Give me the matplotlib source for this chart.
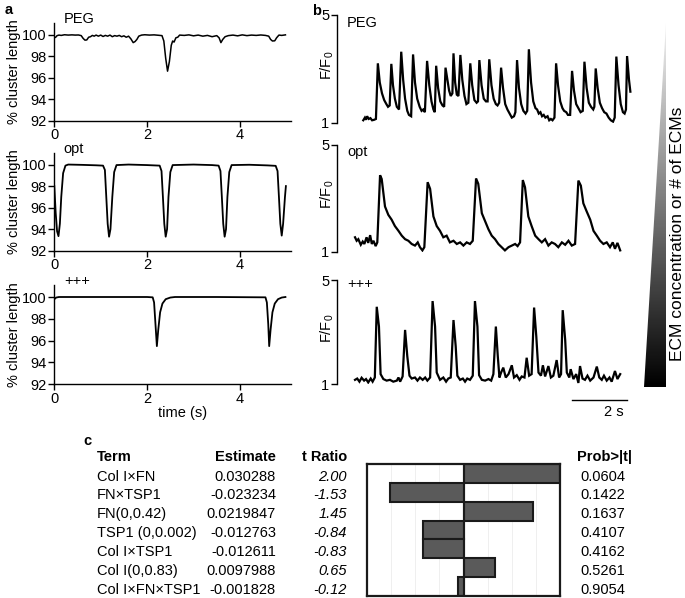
import matplotlib
matplotlib.use("Agg")
import matplotlib.pyplot as plt
import numpy as np
from matplotlib.patches import Polygon

plt.rcParams['font.family'] = ['Liberation Sans', 'DejaVu Sans']

# ---------------- data ----------------
# panel a: % cluster length traces (time s, value)
peg_a_t = [0.00, 0.03, 0.06, 0.10, 0.15, 0.22, 0.30, 0.38, 0.45, 0.52, 0.58, 0.62, 0.66, 0.70, 0.74, 0.78,
           0.82, 0.86, 0.90, 0.95, 1.00, 1.05, 1.10, 1.15, 1.20, 1.25, 1.30, 1.35, 1.40, 1.45, 1.50, 1.55,
           1.60, 1.65, 1.70, 1.74, 1.78, 1.82, 1.88, 1.95, 2.05, 2.15, 2.25, 2.32, 2.36, 2.40, 2.44, 2.48,
           2.52, 2.55, 2.58, 2.62, 2.66, 2.70, 2.80, 2.90, 3.00, 3.10, 3.20, 3.30, 3.40, 3.50, 3.55, 3.59,
           3.63, 3.68, 3.75, 3.85, 3.95, 4.05, 4.15, 4.25, 4.35, 4.45, 4.55, 4.62, 4.66, 4.70, 4.75, 4.79,
           4.84, 4.90, 4.98]
peg_a_v = [99.70, 99.75, 99.90, 99.95, 99.92, 99.98, 99.95, 99.97, 99.95, 99.96, 99.90, 99.65, 99.48, 99.50, 99.75, 99.80,
           99.92, 99.85, 99.95, 99.85, 99.95, 99.82, 99.92, 99.85, 99.95, 99.80, 99.90, 99.85, 99.92, 99.80, 99.88, 99.75,
           99.85, 99.60, 99.25, 99.35, 99.55, 99.85, 99.95, 99.98, 99.95, 99.97, 99.93, 99.90, 99.40, 97.80, 96.60, 97.50,
           99.00, 99.40, 99.30, 99.70, 99.75, 99.95, 99.92, 99.97, 99.88, 99.95, 99.85, 99.92, 99.80, 99.90, 99.70, 99.25,
           99.55, 99.80, 99.90, 99.95, 99.88, 99.97, 99.90, 99.95, 99.92, 99.96, 99.92, 99.85, 99.55, 99.40, 99.42, 99.70,
           99.95, 99.92, 99.97]

opt_a_t = [0.00, 0.03, 0.06, 0.09, 0.12, 0.15, 0.19, 0.24, 0.30, 0.60, 0.90, 1.05, 1.09, 1.12, 1.15, 1.18, 1.21,
           1.25, 1.29, 1.34, 1.60, 2.00, 2.27, 2.31, 2.34, 2.37, 2.40, 2.43, 2.46, 2.50, 2.55, 3.00, 3.40, 3.54,
           3.58, 3.61, 3.64, 3.67, 3.70, 3.73, 3.77, 3.82, 4.20, 4.60, 4.77, 4.81, 4.84, 4.87, 4.90, 4.93, 4.97, 4.99]
opt_a_v = [98.0, 95.5, 93.8, 93.35, 94.5, 97.0, 99.2, 99.9, 100.0, 99.97, 99.93, 99.9, 99.5, 97.0, 94.5, 93.3, 94.0,
           97.0, 99.3, 99.95, 100.0, 99.95, 99.9, 99.4, 97.0, 94.5, 93.3, 94.0, 97.0, 99.3, 99.95, 100.0, 99.95, 99.9,
           99.4, 97.0, 94.5, 93.3, 94.0, 97.0, 99.3, 99.95, 99.98, 99.92, 99.88, 99.4, 97.0, 94.5, 93.4, 94.5, 97.0, 98.0]

ppp_a_t = [0.00, 0.04, 0.10, 1.00, 2.00, 2.12, 2.15, 2.18, 2.21, 2.24, 2.28, 2.33, 2.40, 2.50, 2.60, 3.50,
           4.55, 4.58, 4.61, 4.63, 4.66, 4.70, 4.75, 4.82, 4.90, 4.98]
ppp_a_v = [99.8, 99.95, 100.0, 100.0, 100.0, 99.97, 99.5, 97.5, 95.5, 97.0, 98.6, 99.4, 99.8, 99.95, 100.0, 100.0,
           99.97, 99.5, 97.5, 95.5, 97.0, 98.6, 99.4, 99.8, 99.95, 100.0]

# panel b: F/F0 traces (time s, value)
peg_b_t = [0.00, 0.06, 0.10, 0.14, 0.20, 0.26, 0.32, 0.40, 0.46, 0.53, 0.60, 0.68, 0.76, 0.84, 0.90, 0.96,
           1.02, 1.08, 1.15, 1.22, 1.30, 1.38, 1.45, 1.52, 1.60, 1.66, 1.74, 1.81, 1.88, 1.96, 2.05, 2.12,
           2.18, 2.24, 2.32, 2.40, 2.48, 2.55, 2.60, 2.65, 2.72, 2.80, 2.88, 2.94, 2.99, 3.06, 3.12, 3.18,
           3.24, 3.28, 3.34, 3.40, 3.46, 3.53, 3.60, 3.68, 3.75, 3.82, 3.89, 3.96, 4.04, 4.12, 4.17, 4.22,
           4.30, 4.38, 4.46, 4.52, 4.58, 4.66, 4.74, 4.82, 4.88, 4.94, 5.01, 5.08, 5.16, 5.24, 5.32, 5.40,
           5.48, 5.53, 5.59, 5.66, 5.74, 5.82, 5.90, 5.96, 6.02, 6.10, 6.18, 6.26, 6.32, 6.38, 6.44, 6.50,
           6.56, 6.62, 6.70, 6.76, 6.82, 6.88, 6.95, 7.01, 7.08, 7.16, 7.24, 7.30, 7.38, 7.44, 7.52, 7.59,
           7.66, 7.74, 7.82, 7.90, 7.98, 8.04, 8.12, 8.20, 8.28, 8.36, 8.40, 8.45, 8.52, 8.60, 8.68, 8.76,
           8.84, 8.92, 9.00, 9.08, 9.14, 9.20, 9.28, 9.36, 9.44, 9.50, 9.55, 9.59, 9.66, 9.71]
peg_b_v = [1.10, 1.20, 1.12, 1.25, 1.15, 1.18, 1.10, 1.12, 1.15, 3.21, 2.50, 2.10, 1.85, 1.70, 1.60, 1.65,
           3.19, 2.40, 1.90, 1.60, 1.50, 3.64, 2.60, 1.90, 1.45, 1.30, 1.25, 3.54, 2.50, 1.90, 1.60, 1.45,
           1.50, 1.40, 3.30, 2.40, 1.80, 1.50, 1.40, 3.12, 2.30, 1.80, 1.65, 1.60, 3.05, 2.60, 2.20, 2.00,
           2.10, 3.58, 2.50, 2.05, 2.00, 3.52, 2.60, 2.00, 1.70, 1.75, 3.21, 2.40, 1.85, 1.75, 1.80, 3.33,
           2.40, 1.90, 1.80, 1.80, 3.36, 2.40, 1.90, 1.70, 1.65, 1.75, 3.05, 2.30, 1.70, 1.50, 1.35, 1.20,
           1.25, 1.40, 3.33, 2.30, 1.70, 1.45, 1.35, 1.45, 3.73, 2.50, 1.80, 1.55, 1.50, 1.35, 1.40, 1.25,
           1.30, 1.20, 1.25, 1.10, 1.15, 1.10, 1.20, 3.21, 2.40, 1.80, 1.55, 1.45, 1.40, 1.30, 1.30, 2.93,
           2.20, 1.70, 1.55, 1.40, 1.45, 3.27, 2.30, 1.75, 1.60, 1.50, 1.60, 3.02, 2.30, 1.75, 1.55, 1.40,
           1.35, 1.20, 1.10, 1.05, 1.20, 3.46, 2.40, 1.70, 1.40, 1.35, 1.50, 3.48, 2.60, 2.16]
peg_b_start = 0.30

opt_b_t = [0.00, 0.06, 0.12, 0.21, 0.28, 0.34, 0.42, 0.48, 0.55, 0.61, 0.67, 0.75, 0.81, 0.91, 0.97, 1.09,
           1.21, 1.33, 1.45, 1.58, 1.70, 1.82, 1.94, 2.06, 2.18, 2.28, 2.36, 2.45, 2.52, 2.64, 2.73, 2.85,
           2.97, 3.09, 3.21, 3.33, 3.45, 3.58, 3.70, 3.82, 3.94, 4.06, 4.18, 4.28, 4.40, 4.48, 4.61, 4.73,
           4.85, 4.97, 5.09, 5.21, 5.33, 5.45, 5.58, 5.70, 5.82, 5.91, 6.00, 6.10, 6.18, 6.30, 6.42, 6.55,
           6.67, 6.79, 6.91, 7.03, 7.15, 7.27, 7.39, 7.52, 7.64, 7.76, 7.88, 8.00, 8.12, 8.21, 8.30, 8.42,
           8.55, 8.67, 8.79, 8.91, 9.03, 9.15, 9.27, 9.37, 9.45, 9.54, 9.64]
opt_b_v = [1.55, 1.42, 1.48, 1.27, 1.39, 1.30, 1.55, 1.34, 1.63, 1.30, 1.42, 1.22, 1.36, 3.87, 3.73, 2.70,
           2.39, 2.21, 1.97, 1.79, 1.61, 1.48, 1.42, 1.30, 1.24, 1.36, 1.18, 1.06, 1.18, 3.61, 3.36, 2.33,
           1.97, 1.79, 1.55, 1.61, 1.36, 1.42, 1.30, 1.36, 1.24, 1.36, 1.30, 1.42, 3.75, 3.55, 2.45, 2.15,
           1.85, 1.61, 1.48, 1.30, 1.18, 1.06, 1.18, 1.24, 1.30, 1.22, 1.36, 3.69, 3.42, 2.33, 1.97, 1.61,
           1.48, 1.36, 1.48, 1.24, 1.36, 1.30, 1.18, 1.36, 1.27, 1.42, 1.24, 1.30, 3.67, 3.48, 2.82, 2.52,
           2.21, 1.79, 1.61, 1.42, 1.30, 1.36, 1.18, 1.36, 1.12, 1.34, 1.06]

ppp_b_t = [0.00, 0.08, 0.16, 0.24, 0.33, 0.40, 0.48, 0.57, 0.64, 0.72, 0.79, 0.87, 0.93, 1.03, 1.15, 1.27,
           1.39, 1.52, 1.58, 1.64, 1.73, 1.82, 1.90, 1.98, 2.06, 2.18, 2.27, 2.36, 2.46, 2.55, 2.63, 2.73,
           2.82, 2.91, 2.97, 3.09, 3.21, 3.31, 3.39, 3.48, 3.58, 3.66, 3.72, 3.82, 3.92, 4.00, 4.08, 4.18,
           4.28, 4.36, 4.45, 4.51, 4.61, 4.73, 4.85, 4.95, 5.03, 5.12, 5.19, 5.25, 5.31, 5.39, 5.48, 5.58,
           5.70, 5.78, 5.88, 5.98, 6.06, 6.16, 6.24, 6.33, 6.42, 6.51, 6.59, 6.67, 6.76, 6.83, 6.91, 7.03,
           7.12, 7.21, 7.33, 7.42, 7.49, 7.55, 7.64, 7.70, 7.79, 7.84, 7.94, 8.04, 8.12, 8.18, 8.27, 8.36,
           8.45, 8.55, 8.67, 8.79, 8.88, 8.97, 9.05, 9.15, 9.25, 9.33, 9.45, 9.54, 9.64]
ppp_b_v = [1.16, 1.21, 1.09, 1.24, 1.13, 1.19, 1.06, 1.21, 1.09, 1.25, 3.97, 3.21, 1.38, 1.19, 1.13, 1.16,
           1.09, 1.13, 1.25, 1.09, 1.29, 3.08, 2.07, 1.32, 1.21, 1.25, 1.13, 1.25, 1.16, 1.25, 1.13, 1.25,
           4.19, 3.21, 1.44, 1.16, 1.25, 1.09, 1.21, 1.25, 3.46, 2.45, 1.32, 1.16, 1.21, 1.09, 1.21, 1.16,
           1.32, 4.19, 3.21, 1.34, 1.16, 1.13, 1.19, 1.13, 1.38, 3.21, 2.07, 1.25, 1.44, 1.63, 1.25, 1.38,
           1.72, 1.25, 1.34, 1.16, 1.29, 1.25, 2.01, 1.32, 1.38, 3.94, 2.83, 1.44, 1.32, 1.72, 1.29, 1.69,
           1.25, 1.32, 1.92, 1.25, 1.38, 3.84, 2.70, 1.44, 1.25, 1.57, 1.19, 1.38, 1.04, 1.69, 1.21, 1.16,
           1.32, 1.13, 1.25, 1.67, 1.25, 1.16, 1.32, 1.13, 1.25, 1.09, 1.50, 1.19, 1.38]

conditions = ['PEG', 'opt', '+++']
a_yticks = [92, 94, 96, 98, 100]
a_xticks = [0, 2, 4]
b_yticks = [1, 5]
scale_bar_s = 2

# panel c: regression table
terms = ['Col I\u00d7FN', 'FN\u00d7TSP1', 'FN(0,0.42)', 'TSP1 (0,0.002)', 'Col I\u00d7TSP1',
         'Col I(0,0.83)', 'Col I\u00d7FN\u00d7TSP1']
estimates = ['0.030288', '-0.023234', '0.0219847', '-0.012763', '-0.012611', '0.0097988', '-0.001828']
t_ratios = [2.00, -1.53, 1.45, -0.84, -0.83, 0.65, -0.12]
probs = ['0.0604', '0.1422', '0.1637', '0.4107', '0.4162', '0.5261', '0.9054']

# ---------------- figure ----------------
W, H = 685, 598
fig = plt.figure(figsize=(W / 100, H / 100), dpi=100)


def rect(x0, y0, x1, y1):
    """pixel box (top-left origin) -> figure fraction rect"""
    return [x0 / W, 1 - y1 / H, (x1 - x0) / W, (y1 - y0) / H]


def ftext(x, y, s, **kw):
    fig.text(x / W, 1 - y / H, s, **kw)


FS = 10.5

# ---- panel a ----
a_boxes = [(54.3, 22.7, 291, 120.7), (54.3, 152.7, 291, 250.7), (54.3, 285, 291, 384.3)]
a_data = [(peg_a_t, peg_a_v), (opt_a_t, opt_a_v), (ppp_a_t, ppp_a_v)]
for i, (box, (tt, vv)) in enumerate(zip(a_boxes, a_data)):
    ax = fig.add_axes(rect(*box))
    ax.plot(tt, vv, color='black', lw=1.3 if i else 1.1)
    ax.set_xlim(0, 5.1)
    ax.set_ylim(92, 101.1)
    ax.set_yticks(a_yticks)
    ax.set_xticks(a_xticks)
    for s in ['top', 'right']:
        ax.spines[s].set_visible(False)
    for s in ['left', 'bottom']:
        ax.spines[s].set_linewidth(1.0)
    ax.tick_params(labelsize=FS, length=4, width=1.0, pad=1.5)
    ax.set_ylabel('% cluster length', fontsize=FS, labelpad=1)
    ax.text(0.04, 1.04, conditions[i], transform=ax.transAxes, fontsize=FS,
            ha='left', va='center')
ftext(183, 413, 'time (s)', fontsize=FS, ha='center', va='center')

# ---- panel b ----
b_boxes = [(337, 15, 640, 123), (337, 145, 640, 252), (337, 280, 640, 384)]
b_data = [(np.array(peg_b_t) + peg_b_start, peg_b_v), (opt_b_t, opt_b_v), (ppp_b_t, ppp_b_v)]
b_label_y = [23, 152, 284]
b_axes = []
for i, (box, (tt, vv)) in enumerate(zip(b_boxes, b_data)):
    ax = fig.add_axes(rect(*box))
    b_axes.append(ax)
    ax.plot(tt, vv, color='black', lw=1.6, solid_joinstyle='miter')
    ax.set_xlim(-0.655, 10.36)
    ax.set_ylim(1, 5)
    for s in ['top', 'right', 'bottom']:
        ax.spines[s].set_visible(False)
    ax.spines['left'].set_linewidth(1.0)
    ax.set_xticks([])
    ax.set_yticks(b_yticks)
    ax.tick_params(labelsize=FS, length=4, width=1.0, pad=1.5)
    ax.patch.set_alpha(0)
    mid = (box[1] + box[3]) / 2
    ftext(327, mid - 4, r'F/F$_\mathregular{0}$', fontsize=FS, rotation=90, ha='center', va='center')
    ftext(347, b_label_y[i], conditions[i], fontsize=FS, ha='left', va='center')

axb = b_axes[-1]
axb.plot([7.9, 7.9 + scale_bar_s], [0.4, 0.4], color='black', lw=1.0, clip_on=False)
ftext(614, 412, '2 s', fontsize=FS, ha='center', va='center')

# gradient wedge
axg = fig.add_axes(rect(644, 23, 666, 387))
axg.set_xlim(0, 1)
axg.set_ylim(0, 1)
axg.axis('off')
grad = np.linspace(0, 1, 256).reshape(-1, 1)
im = axg.imshow(grad, extent=[0, 1, 0, 1], origin='lower', cmap='gray', vmin=0, vmax=1.05,
                aspect='auto')
wedge = Polygon([(1, 1), (1, 0), (0, 0)], closed=True, transform=axg.transData,
                facecolor='none', edgecolor='none')
axg.add_patch(wedge)
im.set_clip_path(wedge)
ftext(677, 234, 'ECM concentration or # of ECMs', fontsize=12.5, rotation=90, ha='center', va='center')

# ---- panel labels ----
ftext(5, 10, 'a', fontsize=FS, fontweight='bold', ha='left', va='center')
ftext(312, 11, 'b', fontsize=FS, fontweight='bold', ha='left', va='center')
ftext(83, 441, 'c', fontsize=FS, fontweight='bold', ha='left', va='center')

# ---- panel c ----
TF = 10.5
hy = 457
ftext(97, hy, 'Term', fontsize=TF, fontweight='bold', ha='left', va='center')
ftext(276, hy, 'Estimate', fontsize=TF, fontweight='bold', ha='right', va='center')
ftext(347, hy, 't Ratio', fontsize=TF, fontweight='bold', ha='right', va='center')
ftext(577, hy, 'Prob>|t|', fontsize=TF, fontweight='bold', ha='left', va='center')
row_h = (596 - 464) / len(terms)
for i in range(len(terms)):
    y = 464 + row_h * (i + 0.5) + 3.2
    ftext(97, y, terms[i], fontsize=TF, ha='left', va='center')
    ftext(276, y, estimates[i], fontsize=TF, ha='right', va='center')
    ftext(347, y, f'{t_ratios[i]:.2f}', fontsize=TF, ha='right', va='center', style='italic')
    ftext(580, y, probs[i], fontsize=TF, ha='left', va='center')

axc = fig.add_axes(rect(367, 464, 560, 596))
ypos = np.arange(len(terms))
axc.barh(ypos, t_ratios, height=1.0, color='#5a5a5a', edgecolor='#1a1a1a', linewidth=1.5)
axc.axvline(0, color='#1a1a1a', lw=1.5)
for gx in [-1.5, -1.0, -0.5, 0.5, 1.0, 1.5]:
    axc.axvline(gx, color='#ececec', lw=0.6, zorder=0)
axc.set_xlim(-2, 2)
axc.set_ylim(len(terms) - 0.5, -0.5)
axc.set_xticks([])
axc.set_yticks([])
for s in axc.spines.values():
    s.set_linewidth(1.6)
    s.set_color('#1a1a1a')

fig.savefig('out.png', dpi=100)
